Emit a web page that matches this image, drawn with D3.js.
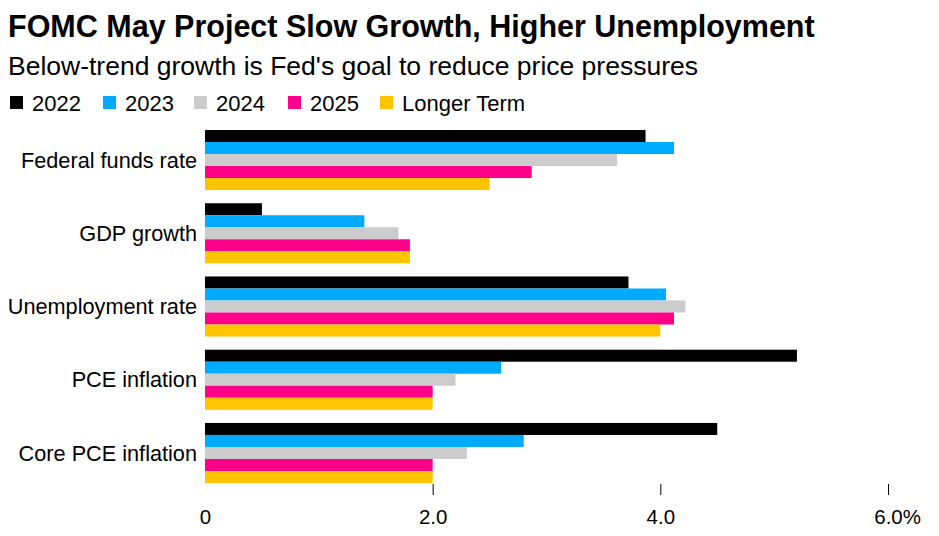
<!DOCTYPE html>
<html>
<head>
<meta charset="utf-8">
<script src="https://cdn.jsdelivr.net/npm/d3@7"></script>
<style>
  html, body { margin: 0; padding: 0; background: #fff; }
  svg { display: block; font-family: "Liberation Sans", Arial, sans-serif; }
</style>
</head>
<body>
<div id="chart"></div>
<script>
const WIDTH = 939;
const HEIGHT = 536;

const categories = [
  "Federal funds rate",
  "GDP growth",
  "Unemployment rate",
  "PCE inflation",
  "Core PCE inflation"
];
const seriesNames = ["2022", "2023", "2024", "2025", "Longer Term"];
const seriesColors = ["#000000", "#00aaff", "#cccccc", "#ff0089", "#ffc400"];

const values2022 = [3.87, 0.5, 3.72, 5.2, 4.5];
const values2023 = [4.12, 1.4, 4.05, 2.6, 2.8];
const values2024 = [3.62, 1.7, 4.22, 2.2, 2.3];
const values2025 = [2.87, 1.8, 4.12, 2.0, 2.0];
const valuesLonger = [2.5, 1.8, 4.0, 2.0, 2.0];
const seriesValues = [values2022, values2023, values2024, values2025, valuesLonger];

const xTicks = [0, 2, 4, 6];

const svg = d3.select("#chart")
  .append("svg")
  .attr("width", WIDTH)
  .attr("height", HEIGHT);

svg.append("text")
  .attr("x", 8)
  .attr("y", 37)
  .attr("font-size", 30.5)
  .attr("font-weight", "bold")
  .attr("fill", "#000")
  .text("FOMC May Project Slow Growth, Higher Unemployment");

svg.append("text")
  .attr("x", 8)
  .attr("y", 75)
  .attr("font-size", 26.5)
  .attr("fill", "#000")
  .text("Below-trend growth is Fed's goal to reduce price pressures");

// legend
const legendX = [10, 103, 194, 288, 380];
const legend = svg.append("g").attr("class", "legend");
const legendItem = legend.selectAll("g")
  .data(seriesNames)
  .join("g")
  .attr("transform", (d, i) => `translate(${legendX[i]},96)`);

legendItem.append("rect")
  .attr("width", 13)
  .attr("height", 13)
  .attr("fill", (d, i) => seriesColors[i]);

legendItem.append("text")
  .attr("x", 22)
  .attr("y", 15)
  .attr("font-size", 22)
  .attr("fill", "#000")
  .text((d) => d);

// scales
const x = d3.scaleLinear().domain([0, 6]).range([205, 888]);
const y = d3.scaleBand().domain(categories).range([130, 483]).paddingInner(0.18);
const ySub = d3.scaleBand().domain(seriesNames).range([0, y.bandwidth()]);

const groups = svg.append("g").attr("class", "groups")
  .selectAll("g")
  .data(categories)
  .join("g")
  .attr("transform", (d) => `translate(0,${y(d)})`);

groups.selectAll("rect")
  .data((d, ci) => seriesNames.map((s, si) => ({ series: s, si, value: seriesValues[si][ci] })))
  .join("rect")
  .attr("x", x(0))
  .attr("y", (d) => ySub(d.series))
  .attr("width", (d) => x(d.value) - x(0))
  .attr("height", ySub.bandwidth())
  .attr("fill", (d) => seriesColors[d.si]);

groups.append("text")
  .attr("x", 197)
  .attr("y", y.bandwidth() / 2)
  .attr("dy", "0.35em")
  .attr("text-anchor", "end")
  .attr("font-size", 21.7)
  .attr("fill", "#000")
  .text((d) => d);

// x axis
const axis = svg.append("g")
  .attr("transform", "translate(0,484)")
  .call(d3.axisBottom(x)
    .tickValues(xTicks)
    .tickSize(11)
    .tickPadding(14)
    .tickFormat((d) => (d === 0 ? "0" : d3.format(".1f")(d))));

axis.select(".domain").remove();
axis.selectAll(".tick line")
  .attr("stroke", "#000")
  .attr("stroke-width", 1)
  .attr("opacity", (d) => (d === 0 ? 0 : 1));
axis.selectAll(".tick text")
  .attr("font-size", 20.5)
  .attr("font-family", "Liberation Sans, Arial, sans-serif")
  .attr("fill", "#000");

// last label: keep the number centred on the tick and let "%" hang right
axis.selectAll(".tick text")
  .filter((d) => d === 6)
  .each(function () {
    const t = d3.select(this);
    const w = this.getComputedTextLength();
    t.attr("text-anchor", "start").attr("x", -w / 2);
    t.append("tspan").text("%");
  });
</script>
</body>
</html>
